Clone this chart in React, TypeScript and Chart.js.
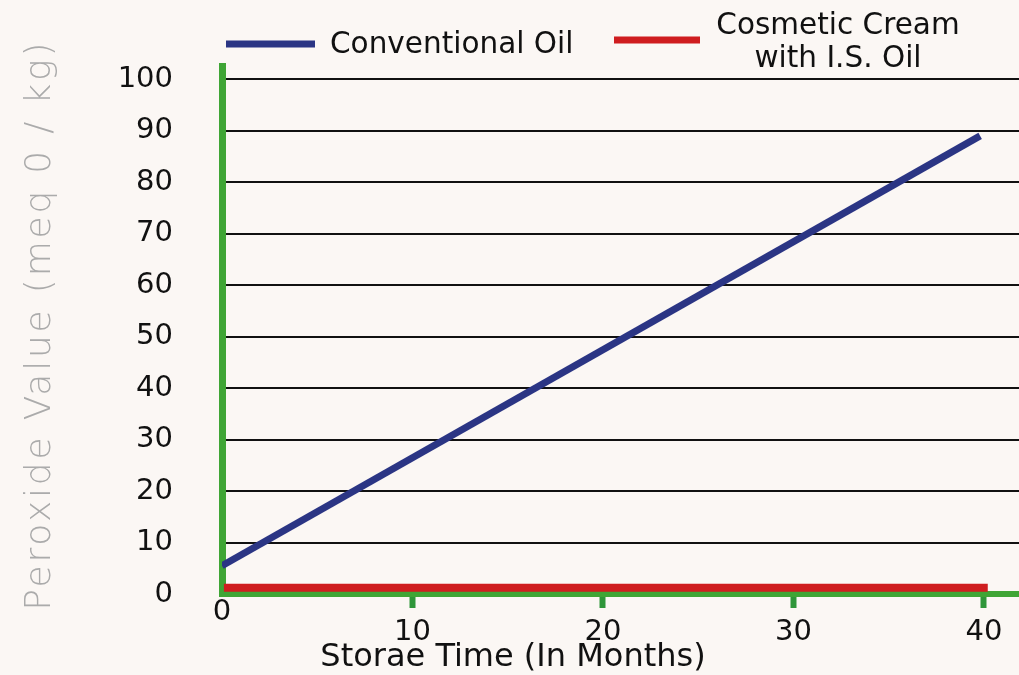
import React, { useEffect, useRef } from 'react';
import { Chart, registerables } from 'chart.js';

Chart.register(...registerables);

// ---- data ----
const oilMonths = [0, 39.8];
const conventionalOil = [5.5, 89];
const creamMonths = [0.1, 40.2];
const cosmeticCream = [1.2, 1.2];
const seriesLabels = [['Conventional Oil'], ['Cosmetic Cream', 'with I.S. Oil']];
const xTickValues = [0, 10, 20, 30, 40];
const yTickValues = [0, 10, 20, 30, 40, 50, 60, 70, 80, 90, 100];
const xTitle = 'Storae Time (In Months)';
const yTitle = 'Peroxide Value (meq 0 / kg)';

const FONT = '"DejaVu Sans", "Open Sans", sans-serif';
const BG = '#fbf7f4';
const GREEN = '#3fa535';
const GREEN_TICK = '#2f963a';
const BLUE = '#2b3584';
const RED = '#cf1d1f';

const decorPlugin = {
  id: 'decor',
  beforeDraw(chart: any) {
    const { ctx, width, height } = chart;
    ctx.save();
    ctx.fillStyle = BG;
    ctx.fillRect(0, 0, width, height);
    ctx.restore();
  },
  afterDraw(chart: any) {
    const { ctx, chartArea } = chart;
    // y title
    ctx.save();
    ctx.fillStyle = '#ababab';
    ctx.font = `200 36px ${FONT}`;
    try { (ctx as any).letterSpacing = '2.8px'; } catch (e) {}
    ctx.translate(41, (chartArea.top + chartArea.bottom) / 2 - 5);
    ctx.rotate(-Math.PI / 2);
    ctx.textAlign = 'center';
    ctx.textBaseline = 'middle';
    ctx.fillText(yTitle, 0, 0);
    ctx.restore();

    // x title
    ctx.save();
    ctx.fillStyle = '#111';
    ctx.font = `400 32px ${FONT}`;
    ctx.textAlign = 'center';
    ctx.textBaseline = 'middle';
    ctx.fillText(xTitle, chartArea.left + 291, chartArea.bottom + 64);
    ctx.restore();

    // legend
    const ds = chart.data.datasets;
    const items = [
      { x1: chartArea.left + 4, x2: chartArea.left + 93, y: 44, tx: chartArea.left + 108, align: 'left', ty: 45 },
      { x1: chartArea.left + 392, x2: chartArea.left + 478, y: 40, tx: chartArea.left + 616, align: 'center', ty: 26 },
    ];
    items.forEach((it, i) => {
      ctx.save();
      ctx.strokeStyle = ds[i].borderColor;
      ctx.lineWidth = 7;
      ctx.beginPath();
      ctx.moveTo(it.x1, it.y);
      ctx.lineTo(it.x2, it.y);
      ctx.stroke();
      ctx.fillStyle = '#111';
      ctx.font = `400 29.5px ${FONT}`;
      ctx.textAlign = it.align as CanvasTextAlign;
      ctx.textBaseline = 'middle';
      const lines = seriesLabels[i];
      lines.forEach((ln, j) => ctx.fillText(ln, it.tx, it.ty + j * 33));
      ctx.restore();
    });
  },
};

export default function App() {
  const ref = useRef<HTMLCanvasElement | null>(null);

  useEffect(() => {
    document.body.style.margin = '0';
    document.body.style.background = BG;
    const canvas = ref.current;
    if (!canvas) return;
    const chart = new Chart(canvas, {
      type: 'line',
      data: {
        datasets: [
          {
            label: seriesLabels[0].join(' '),
            data: oilMonths.map((m, i) => ({ x: m, y: conventionalOil[i] })),
            borderColor: BLUE,
            borderWidth: 7,
            pointRadius: 0,
            borderCapStyle: 'butt',
            fill: false,
            tension: 0,
          },
          {
            label: seriesLabels[1].join(' '),
            data: creamMonths.map((m, i) => ({ x: m, y: cosmeticCream[i] })),
            borderColor: RED,
            borderWidth: 8,
            pointRadius: 0,
            borderCapStyle: 'butt',
            fill: false,
            tension: 0,
          },
        ],
      },
      options: {
        responsive: false,
        animation: false,
        devicePixelRatio: 1,
        layout: { padding: { top: 62, left: 0, right: 0, bottom: 0 } },
        plugins: {
          legend: { display: false },
          tooltip: { enabled: false },
          title: { display: false },
        },
        scales: {
          x: {
            type: 'linear',
            min: 0,
            max: 41.84,
            afterFit: (s: any) => { s.height = 81; },
            afterBuildTicks: (s: any) => { s.ticks = xTickValues.map((v) => ({ value: v })); },
            border: { display: true, color: GREEN, width: 6 },
            grid: {
              display: true,
              drawOnChartArea: false,
              drawTicks: true,
              tickLength: 14,
              tickWidth: 6,
              tickColor: (c: any) => (c.tick && c.tick.value === 0 ? 'rgba(0,0,0,0)' : GREEN_TICK),
            },
            ticks: {
              color: '#111',
              font: { family: FONT, size: 29, lineHeight: 0.7 },
              padding: -6,
              maxRotation: 0,
              autoSkip: false,
              callback: (v: any) => (Number(v) === 0 ? '0' : ['', String(v)]),
            },
          },
          y: {
            type: 'linear',
            min: 0,
            max: 102.5,
            afterFit: (s: any) => { s.width = 222; },
            afterBuildTicks: (s: any) => { s.ticks = yTickValues.map((v) => ({ value: v })); },
            border: { display: true, color: GREEN, width: 7 },
            grid: {
              display: true,
              drawOnChartArea: true,
              drawTicks: false,
              lineWidth: 2,
              color: (c: any) => (c.tick && c.tick.value === 0 ? 'rgba(0,0,0,0)' : '#111'),
            },
            ticks: {
              color: '#111',
              font: { family: FONT, size: 29 },
              padding: 49,
              autoSkip: false,
              callback: (v: any) => String(v),
            },
          },
        },
      },
      plugins: [decorPlugin],
    });
    return () => chart.destroy();
  }, []);

  return (
    <div style={{ position: 'absolute', left: 0, top: 0, width: 1019, height: 675, background: BG }}>
      <canvas ref={ref} width={1019} height={675} style={{ display: 'block', width: 1019, height: 675 }} />
    </div>
  );
}
